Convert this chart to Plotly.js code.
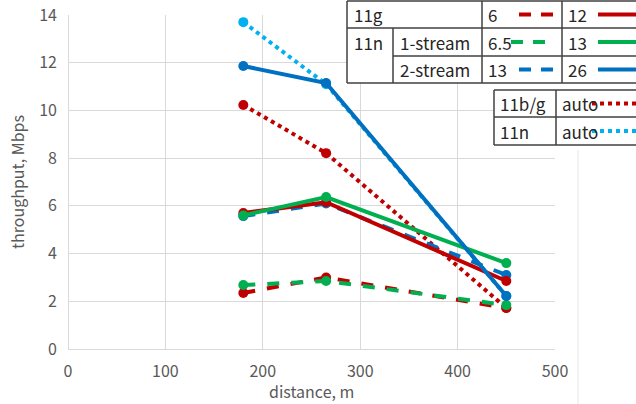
<!DOCTYPE html>
<html>
<head>
<meta charset="utf-8">
<script src="https://cdn.plot.ly/plotly-3.0.1.min.js"></script>
<style>html,body{margin:0;padding:0;background:#fff;}#chart{width:636px;height:404px;}</style>
</head>
<body>
<div id="chart"></div>
<script>
const distance = [180, 265, 450];
const g6 = [2.35, 3.0, 1.72];
const n1s65 = [2.68, 2.85, 1.84];
const n2s13 = [5.57, 6.1, 3.1];
const g12 = [5.7, 6.15, 2.85];
const n1s13 = [5.6, 6.37, 3.6];
const n2s26 = [11.86, 11.15, 2.22];
const bgAuto = [10.23, 8.21, 1.72];
const nAuto = [13.7, 11.1, 2.22];

const RED = '#C00000', GREEN = '#00B050', BLUE = '#0070C0', LBLUE = '#00B0F0';

function tr(y, color, dash, name) {
  return {x: distance, y: y, type: 'scatter', mode: 'lines+markers', name: name,
    line: {color: color, width: 4, dash: dash}, marker: {color: color, size: 10}};
}
const data = [
  tr(nAuto, LBLUE, 'dot', '11n auto'),
  tr(bgAuto, RED, 'dot', '11b/g auto'),
  tr(g6, RED, 'dash', '11g 6'),
  tr(n1s65, GREEN, 'dash', '11n 1-stream 6.5'),
  tr(n2s13, BLUE, 'dash', '11n 2-stream 13'),
  tr(g12, RED, 'solid', '11g 12'),
  tr(n1s13, GREEN, 'solid', '11n 1-stream 13'),
  tr(n2s26, BLUE, 'solid', '11n 2-stream 26')
];

const L = 68, R = 555, T = 15, B = 349;
const px = v => (v - L) / (R - L);
const py = v => (B - v) / (B - T);
const shapes = [], annotations = [];
const TC = '#404040';
function hline(x0, x1, y) { shapes.push({type:'line', xref:'paper', yref:'paper', x0:px(x0), x1:px(x1), y0:py(y), y1:py(y), line:{color:TC, width:1.5}}); }
function vline(x, y0, y1) { shapes.push({type:'line', xref:'paper', yref:'paper', x0:px(x), x1:px(x), y0:py(y0), y1:py(y1), line:{color:TC, width:1.5}}); }
function seg(x0, x1, y, color, dash) { shapes.push({type:'line', xref:'paper', yref:'paper', x0:px(x0), x1:px(x1), y0:py(y), y1:py(y), line:{color:color, width:4, dash:dash}}); }
function txt(x, y, s) { annotations.push({xref:'paper', yref:'paper', x:px(x), y:py(y), text:s, showarrow:false, xanchor:'left', yanchor:'middle', font:{size:17, color:'#262626', family:'Noto Sans CJK JP, sans-serif'}}); }

shapes.push({type:'rect', xref:'paper', yref:'paper', x0:px(347), x1:px(640), y0:py(1), y1:py(83), fillcolor:'#fff', line:{width:0}, layer:'above'});
shapes.push({type:'rect', xref:'paper', yref:'paper', x0:px(494), x1:px(640), y0:py(90), y1:py(145), fillcolor:'#fff', line:{width:0}, layer:'above'});
hline(347, 640, 1); hline(347, 640, 28); hline(393, 640, 56); hline(347, 640, 83);
vline(347, 1, 83); vline(393, 28, 83); vline(482, 1, 83); vline(562, 1, 83);
txt(352, 14.5, '11g'); txt(352, 42, '11n'); txt(398, 42, '1-stream'); txt(398, 69.5, '2-stream');
txt(486, 14.5, '6'); txt(486, 42, '6.5'); txt(486, 69.5, '13');
txt(566, 14.5, '12'); txt(566, 42, '13'); txt(566, 69.5, '26');
seg(519, 555, 14.5, RED, '12px,10px'); seg(511, 555, 42, GREEN, '12px,10px'); seg(519, 555, 69.5, BLUE, '12px,10px');
seg(598, 640, 14.5, RED, 'solid'); seg(598, 640, 42, GREEN, 'solid'); seg(598, 640, 69.5, BLUE, 'solid');
hline(494, 640, 90); hline(494, 640, 117); hline(494, 640, 145);
vline(494, 90, 145); vline(556, 90, 145);
txt(498, 103.5, '11b/g'); txt(498, 131, '11n');
txt(560, 103.5, 'auto'); txt(560, 131, 'auto');
seg(592, 640, 103.5, RED, 'dot'); seg(592, 640, 131, LBLUE, 'dot');
shapes.push({type:'line', xref:'paper', yref:'paper', x0:px(578), x1:px(578), y0:py(150), y1:py(404), line:{color:'#e6e6e6', width:1}, layer:'below'});

const font = {family: 'Noto Sans CJK JP, sans-serif', size: 16, color: '#595959'};
annotations.push({xref:'paper', yref:'paper', x:0.5, y:py(391), text:'distance, m', showarrow:false,
  xanchor:'center', yanchor:'middle', font:font});
const layout = {
  width: 636, height: 404,
  margin: {l: L, r: 636 - R, t: T, b: 404 - B},
  paper_bgcolor: '#fff', plot_bgcolor: '#fff',
  showlegend: false,
  font: font,
  xaxis: {range: [0, 500], dtick: 100, tick0: 0, showgrid: true, gridcolor: '#d9d9d9', gridwidth: 1,
    zeroline: true, zerolinecolor: '#d9d9d9', showline: false, ticks: '', tickfont: font,
    ticklabelstandoff: 11},
  yaxis: {range: [0, 14], dtick: 2, tick0: 0, showgrid: true, gridcolor: '#d9d9d9', gridwidth: 1,
    zeroline: true, zerolinecolor: '#d9d9d9', showline: false, ticks: '', tickfont: font,
    ticklabelstandoff: 10,
    title: {text: 'throughput, Mbps', font: font, standoff: 10}},
  shapes: shapes, annotations: annotations
};
Plotly.newPlot('chart', data, layout, {displayModeBar: false, staticPlot: true});
</script>
</body>
</html>
